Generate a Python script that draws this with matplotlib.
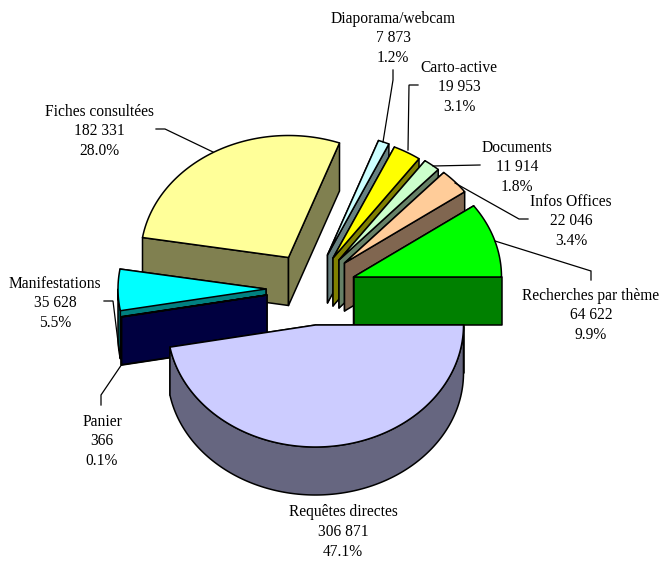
import numpy as np
import matplotlib
matplotlib.use("Agg")
import matplotlib.pyplot as plt
from matplotlib.patches import Polygon

# data, clockwise starting from the east
names = ["Requêtes directes", "Panier", "Manifestations", "Fiches consultées",
         "Diaporama/webcam", "Carto-active", "Documents", "Infos Offices",
         "Recherches par thème"]
counts = [306871, 366, 35628, 182331, 7873, 19953, 11914, 22046, 64622]

# face colours
top_colors = ["#CCCCFF", "#000080", "#00FFFF", "#FFFF99", "#CCFFFF",
              "#FFFF00", "#CCFFCC", "#FFCC99", "#00FF00"]
side_colors = ["#666680", "#000040", "#008080", "#808050", "#668080",
               "#808000", "#668066", "#806650", "#008000"]

# layout, everything in pixels of the 659x561 picture
rx, ry, depth = 148, 122, 48
centers = [(315.5, 325), (267, 295), (266, 289), (288.5, 257.5), (327.5, 255),
           (333, 258), (339, 260), (344.5, 263), (353.5, 277)]
label_pos = [(343, 512.5), (102, 421.5), (55, 283.5), (99, 111.5), (393, 18.5),
             (459, 67.5), (517, 147.5), (571, 201.5), (591, 295.5)]
leaders = [None,
           [(101, 405), (101, 395), (122, 364)],
           [(104, 301), (113, 301), (119, 350)],
           [(156, 129), (165, 129), (213, 152)],
           [(393, 70), (393, 80), (383, 142)],
           [(418, 85), (409, 85), (408, 150)],
           [(480, 165), (433, 166)],
           [(528, 219), (519, 219), (455, 183)],
           [(591, 280), (591, 271), (495, 241)]]
draw_order = [3, 4, 5, 6, 7, 8, 2, 1, 0]

plt.rcParams['font.family'] = ['Liberation Serif', 'DejaVu Serif']

fig = plt.figure(figsize=(6.59, 5.61), dpi=100)
ax = fig.add_axes([0, 0, 1, 1])
ax.set_xlim(0, 659)
ax.set_ylim(561, 0)
ax.axis("off")

total = sum(counts)
edges = np.cumsum([0] + counts) / total * 2 * np.pi


def rim(cx, cy, a):
    return np.column_stack([cx + rx * np.cos(a), cy + ry * np.sin(a)])


def face(pts, color):
    ax.add_patch(Polygon(pts, closed=True, facecolor=color, edgecolor="black",
                         linewidth=1.1, joinstyle="round"))


for i in draw_order:
    cx, cy = centers[i]
    a0, a1 = edges[i], edges[i + 1]
    arc = rim(cx, cy, np.linspace(a0, a1, 200))
    drop = np.array([0, depth])
    apex = np.array([cx, cy])

    # radial cuts
    face([apex, arc[0], arc[0] + drop, apex + drop], side_colors[i])
    face([apex, arc[-1], arc[-1] + drop, apex + drop], side_colors[i])

    # outer wall, only the part facing the viewer
    front = np.sin(np.linspace(a0, a1, 200)) > 0
    if front.any():
        wall = arc[front]
        face(np.vstack([wall, wall[::-1] + drop]), side_colors[i])

    # top
    face(np.vstack([apex, arc]), top_colors[i])

for path in leaders:
    if path:
        xs, ys = zip(*path)
        ax.plot(xs, ys, color="black", lw=0.9, solid_joinstyle="miter")

for name, n, (x, y) in zip(names, counts, label_pos):
    lines = [name, f"{n:,}".replace(",", " "), f"{n / total * 100:.1f}%"]
    for k, s in enumerate(lines):
        ax.text(x, y + k * 19.7, s, ha="center", va="center", fontsize=11.2, color="black")

fig.savefig("out.png", dpi=100)
